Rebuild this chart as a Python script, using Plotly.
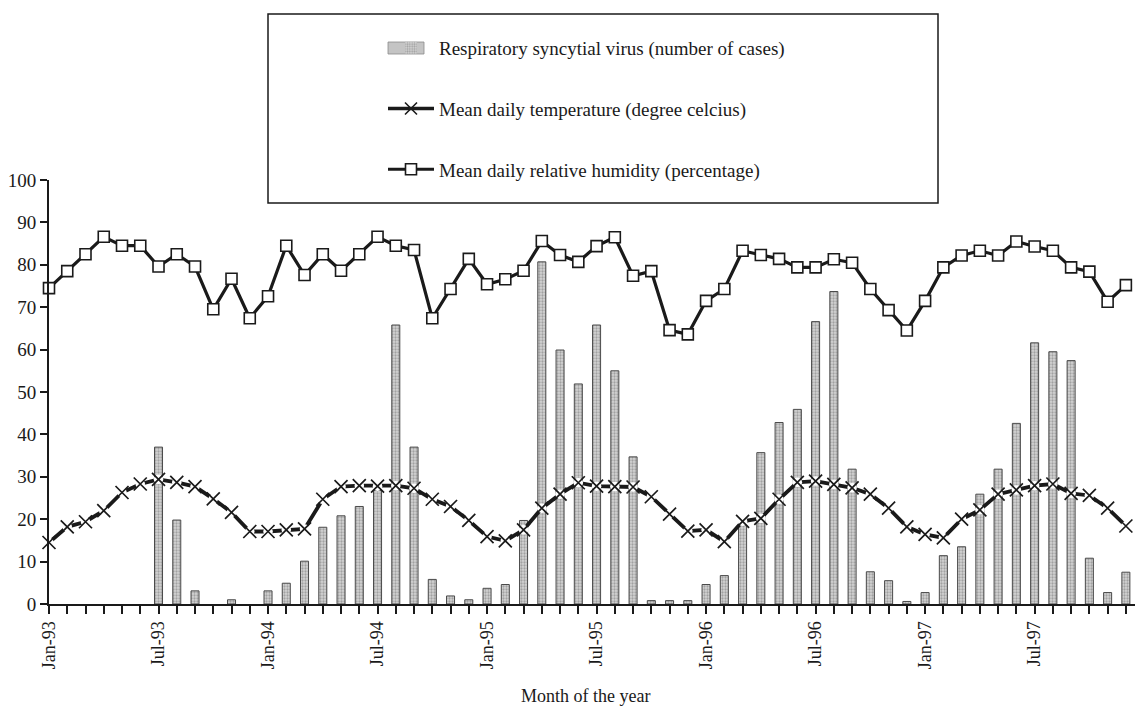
import plotly.graph_objects as go

month_names = ["Jan", "Feb", "Mar", "Apr", "May", "Jun", "Jul", "Aug", "Sep", "Oct", "Nov", "Dec"]
years = ["93", "94", "95", "96", "97"]
months = [f"{m}-{y}" for y in years for m in month_names]
labelled_months = ["Jan-93", "Jul-93", "Jan-94", "Jul-94", "Jan-95", "Jul-95",
                   "Jan-96", "Jul-96", "Jan-97", "Jul-97"]

rsv_cases = [0, 0, 0, 0, 0, 0, 37.0, 19.8, 3.1, 0, 1.0, 0,
             3.1, 4.9, 10.1, 18.1, 20.8, 23.0, 26.8, 65.8, 37.0, 5.8, 1.9, 1.0,
             3.7, 4.6, 19.7, 80.7, 59.9, 51.9, 65.8, 55.0, 34.7, 0.8, 0.8, 0.8,
             4.6, 6.7, 18.6, 35.7, 42.8, 45.9, 66.6, 73.7, 31.8, 7.6, 5.5, 0.6,
             2.7, 11.4, 13.5, 25.9, 31.8, 42.6, 61.6, 59.5, 57.4, 10.8, 2.7, 7.5]

temperature = [14.5, 18.2, 19.4, 22.0, 26.3, 28.3, 29.4, 28.7, 27.7, 24.8, 21.6, 17.1,
               17.1, 17.5, 17.7, 24.7, 27.7, 27.9, 27.8, 27.9, 27.3, 24.7, 23.0, 19.7,
               15.9, 14.9, 17.5, 22.6, 25.9, 28.6, 27.8, 27.7, 27.6, 25.3, 21.2, 17.2,
               17.5, 14.7, 19.5, 20.2, 24.7, 28.7, 29.0, 28.2, 27.4, 25.9, 22.6, 18.2,
               16.4, 15.6, 20.0, 22.2, 25.9, 26.9, 27.9, 28.3, 26.1, 25.6, 22.6, 18.4]

humidity = [74.5, 78.5, 82.5, 86.6, 84.5, 84.5, 79.6, 82.5, 79.6, 69.5, 76.7, 67.4,
            72.6, 84.5, 77.6, 82.5, 78.6, 82.5, 86.6, 84.5, 83.5, 67.4, 74.3, 81.4,
            75.4, 76.6, 78.6, 85.6, 82.3, 80.7, 84.4, 86.5, 77.4, 78.5, 64.6, 63.6,
            71.5, 74.3, 83.3, 82.3, 81.4, 79.4, 79.4, 81.3, 80.5, 74.3, 69.3, 64.5,
            71.5, 79.4, 82.2, 83.3, 82.2, 85.5, 84.3, 83.3, 79.4, 78.4, 71.3, 75.2]

y_ticks = [0, 10, 20, 30, 40, 50, 60, 70, 80, 90, 100]

FONT = '"Liberation Serif", serif'
INK = "#1a1a1a"
TEMP_NAME = "Mean daily temperature (degree celcius)"

# plot-area pixel geometry used to place paper-referenced decorations
L, T, W, H = 49, 180, 1086, 424


def px(x):
    return (x - L) / W


def py(y):
    return (T + H - y) / H


fig = go.Figure()

fig.add_trace(go.Bar(
    x=months, y=rsv_cases,
    name="Respiratory syncytial virus (number of cases)",
    width=0.44,
    marker=dict(
        color="#cfcfcf",
        line=dict(color="#4a4a4a", width=[1 if v > 0 else 0 for v in rsv_cases]),
        pattern=dict(shape=".", fgcolor="#6e6e6e", bgcolor="#d4d4d4", size=3, solidity=0.45),
    ),
    legendgroup="a",
))

# temperature: thick line, small white halo round each point, thin black cross on top
fig.add_trace(go.Scatter(
    x=months, y=temperature, mode="lines",
    line=dict(color=INK, width=3.8),
    cliponaxis=False, showlegend=False, hoverinfo="skip", legendgroup="b",
))
fig.add_trace(go.Scatter(
    x=months, y=temperature, mode="markers",
    marker=dict(symbol="circle", size=9.5, color="white", line=dict(width=0)),
    cliponaxis=False, showlegend=False, hoverinfo="skip", legendgroup="b",
))
fig.add_trace(go.Scatter(
    x=months, y=temperature, mode="markers",
    name=TEMP_NAME,
    marker=dict(symbol="x-thin", size=13, line=dict(color=INK, width=1.7)),
    cliponaxis=False, showlegend=False, legendgroup="b",
))
# legend entry for the temperature series
fig.add_trace(go.Scatter(
    x=[None], y=[None], mode="lines+markers", name=TEMP_NAME,
    line=dict(color=INK, width=3.4),
    marker=dict(symbol="x-thin", size=12, line=dict(color=INK, width=1.6)),
    legendgroup="b",
))

fig.add_trace(go.Scatter(
    x=months, y=humidity,
    name="Mean daily relative humidity (percentage)",
    mode="lines+markers",
    line=dict(color=INK, width=3.2),
    marker=dict(symbol="square", size=11, color="white", line=dict(color=INK, width=1.6)),
    cliponaxis=False,
    legendgroup="c",
))

# Legend frame
fig.add_shape(type="rect", xref="paper", yref="paper",
              x0=px(268), x1=px(938), y0=py(203), y1=py(14),
              line=dict(color=INK, width=1.5), fillcolor="rgba(0,0,0,0)")
# wide swatch for the bar legend entry
fig.add_shape(type="rect", xref="paper", yref="paper",
              x0=px(388), x1=px(424), y0=py(54), y1=py(42),
              line=dict(color="#8a8a8a", width=0.8), fillcolor="#c4c4c4")

fig.add_annotation(text="Month of the year", xref="paper", yref="paper",
                   x=px(585), y=py(696),
                   showarrow=False, font=dict(family=FONT, size=18, color=INK),
                   xanchor="center", yanchor="middle")

fig.update_layout(
    width=1138, height=710,
    margin=dict(l=L, r=1138 - L - W, t=T, b=710 - T - H),
    plot_bgcolor="white", paper_bgcolor="white",
    font=dict(family=FONT, color=INK),
    showlegend=True,
    legend=dict(
        x=px(383), xanchor="left",
        y=py(29), yanchor="top",
        bgcolor="rgba(0,0,0,0)", borderwidth=0,
        font=dict(family=FONT, size=19, color=INK),
        traceorder="grouped", tracegroupgap=33,
        itemwidth=46,
    ),
    xaxis=dict(
        type="category",
        range=[0, 59.5],
        tickmode="array",
        tickvals=months,
        ticktext=[m if m in labelled_months else "" for m in months],
        tickangle=-90,
        ticks="outside", ticklen=8, tickwidth=1.5, tickcolor=INK,
        showline=True, linecolor=INK, linewidth=2,
        showgrid=False, zeroline=False,
        tickfont=dict(family=FONT, size=18, color=INK),
    ),
    yaxis=dict(
        range=[0, 100],
        tickmode="array", tickvals=y_ticks,
        ticks="outside", ticklen=7, tickwidth=1.5, tickcolor=INK,
        showline=True, linecolor=INK, linewidth=2,
        showgrid=False, zeroline=False,
        tickfont=dict(family=FONT, size=19, color=INK),
    ),
)

fig.write_html("out.html",
               config={"displayModeBar": False},
               post_script="document.body.style.margin='0';document.body.style.padding='0';")
